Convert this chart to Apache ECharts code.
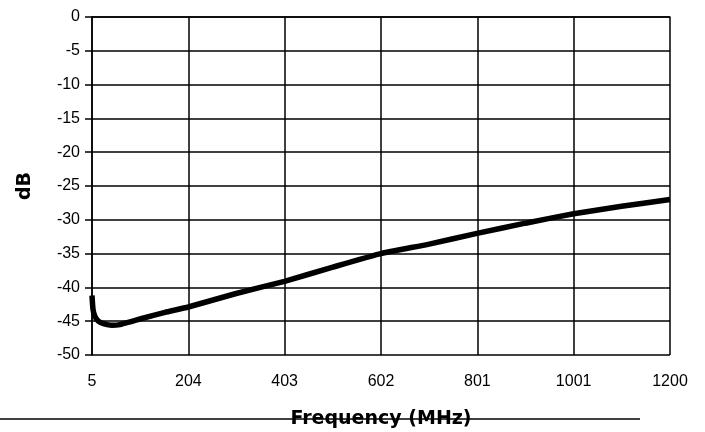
<!DOCTYPE html>
<html>
<head>
<meta charset="utf-8">
<script src="https://cdn.jsdelivr.net/npm/echarts@6/dist/echarts.min.js"></script>
<style>
  html, body { margin: 0; padding: 0; background: #fff; }
  #chart { width: 705px; height: 432px; }
</style>
</head>
<body>
<div id="chart"></div>
<script>
// Frequency (MHz) sample points
const freqMHz = [5, 7, 11, 18, 30, 46, 63, 84, 108, 156, 204, 303, 403, 503, 602, 702, 801, 901, 1001, 1100, 1200];
// Attenuation (dB)
const dBValues = [-41.2, -43.2, -44.3, -45.0, -45.4, -45.6, -45.5, -45.1, -44.6, -43.7, -42.9, -40.9, -39.1, -37.0, -35.0, -33.6, -32.0, -30.5, -29.1, -28.0, -27.0];
// Tick labels
const xTickLabels = [5, 204, 403, 602, 801, 1001, 1200];
const yTicks = [0, -5, -10, -15, -20, -25, -30, -35, -40, -45, -50];

const seriesData = freqMHz.map((f, i) => [f, dBValues[i]]);
const xMin = xTickLabels[0], xMax = xTickLabels[xTickLabels.length - 1];
const font = 'Liberation Sans, Arial, sans-serif';
const titleFont = 'DejaVu Sans, Liberation Sans, sans-serif';

const chart = echarts.init(document.getElementById('chart'), null, { renderer: 'canvas' });
chart.setOption({
  animation: false,
  backgroundColor: '#fff',
  grid: { left: 92, right: 35, top: 17, bottom: 77, containLabel: false, outerBoundsMode: 'none' },
  xAxis: {
    type: 'value',
    min: xMin,
    max: xMax,
    interval: (xMax - xMin) / (xTickLabels.length - 1),
    name: 'Frequency (MHz)',
    nameLocation: 'middle',
    nameGap: 55,
    nameTextStyle: { fontFamily: titleFont, fontWeight: 'bold', fontSize: 19, color: '#000' },
    axisLine: { show: true, lineStyle: { color: '#000', width: 1.5 } },
    axisTick: { show: false },
    axisLabel: {
      color: '#000', fontFamily: font, fontSize: 16, margin: 19,
      formatter: function (v) {
        let best = xTickLabels[0];
        xTickLabels.forEach(t => { if (Math.abs(t - v) < Math.abs(best - v)) best = t; });
        return String(best);
      }
    },
    splitLine: { show: true, lineStyle: { color: '#000', width: 1.5 } }
  },
  yAxis: {
    type: 'value',
    min: yTicks[yTicks.length - 1],
    max: yTicks[0],
    interval: 5,
    name: 'dB',
    nameLocation: 'middle',
    nameRotate: 90,
    nameGap: 57,
    nameTextStyle: { fontFamily: titleFont, fontWeight: 'bold', fontSize: 19, color: '#000' },
    axisLine: { show: true, lineStyle: { color: '#000', width: 1.5 } },
    axisTick: { show: true, inside: false, length: 7, lineStyle: { color: '#000', width: 1.5 } },
    axisLabel: { color: '#000', fontFamily: font, fontSize: 16, margin: 12 },
    splitLine: { show: true, lineStyle: { color: '#000', width: 1.5 } }
  },
  graphic: [{
    type: 'line',
    shape: { x1: 0, y1: 419, x2: 640, y2: 419 },
    style: { stroke: '#000', lineWidth: 1.5 },
    z: 100
  }],
  series: [{
    type: 'line',
    data: seriesData,
    showSymbol: false,
    smooth: 0.15,
    lineStyle: { color: '#000', width: 5.5 },
    itemStyle: { color: '#000' },
    clip: true
  }]
});
</script>
</body>
</html>
